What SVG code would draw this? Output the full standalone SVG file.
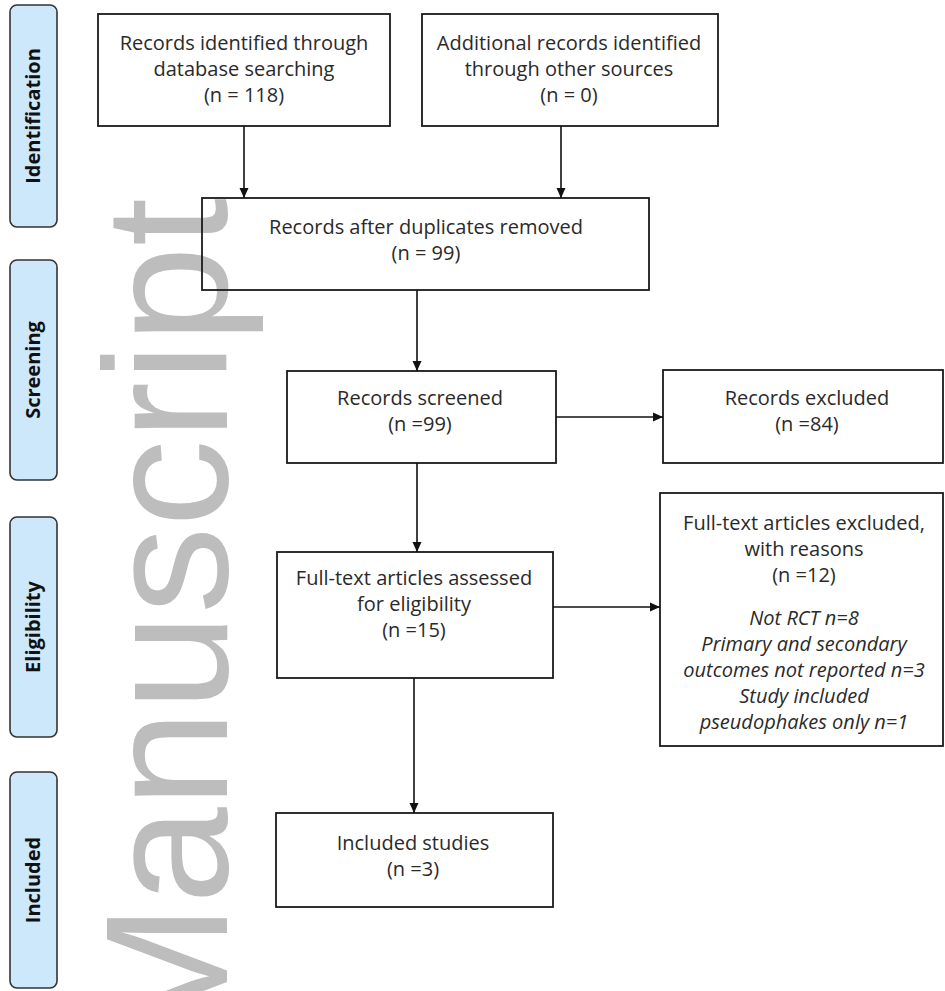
<svg xmlns="http://www.w3.org/2000/svg" width="945" height="991" viewBox="0 0 945 991">
<style>
.wm{font-family:"Liberation Sans",Arial,sans-serif;font-size:174px;fill:#bdbdbd}
.phase rect{fill:#cde8fb;stroke:#333;stroke-width:1.6}
.phase text{font-family:"Open Sans","Liberation Sans",sans-serif;font-weight:700;font-size:20px;fill:#111;text-anchor:middle}
.box rect{fill:none;stroke:#1a1a1a;stroke-width:1.8}
.box text{font-family:"Open Sans","Liberation Sans",sans-serif;font-size:20px;fill:#2a2a2a;text-anchor:middle}
.it{font-style:italic}
.conn line{stroke:#111;stroke-width:1.6;marker-end:url(#ah)}
</style>
<defs>
<marker id="ah" markerUnits="userSpaceOnUse" markerWidth="11" markerHeight="10" refX="10" refY="5" orient="auto">
<path d="M0,0.5 L10,5 L0,9.5 z" fill="#111"/>
</marker>
</defs>
<rect x="0" y="0" width="945" height="991" fill="#fff"/>
<text class="wm" text-anchor="end" transform="translate(227,198) rotate(-90)">Manuscript</text>

<g id="phase-identification" class="phase">
<rect x="10" y="5" width="47" height="222" rx="7"/>
<text transform="translate(40,116) rotate(-90)">Identification</text>
</g>
<g id="phase-screening" class="phase">
<rect x="10" y="260" width="47" height="220" rx="7"/>
<text transform="translate(40,370) rotate(-90)">Screening</text>
</g>
<g id="phase-eligibility" class="phase">
<rect x="10" y="517" width="47" height="220" rx="7"/>
<text transform="translate(40,627) rotate(-90)">Eligibility</text>
</g>
<g id="phase-included" class="phase">
<rect x="10" y="772" width="47" height="216" rx="7"/>
<text transform="translate(40,880) rotate(-90)">Included</text>
</g>

<g id="db-records" class="box">
<rect x="98" y="14" width="292" height="112"/>
<text x="244" y="50">Records identified through</text>
<text x="244" y="76">database searching</text>
<text x="244" y="102">(n = 118)</text>
</g>
<g id="other-records" class="box">
<rect x="422" y="14" width="296" height="112"/>
<text x="569" y="50">Additional records identified</text>
<text x="569" y="76">through other sources</text>
<text x="569" y="102">(n = 0)</text>
</g>
<g id="dedup" class="box">
<rect x="202" y="198" width="447" height="92"/>
<text x="426" y="234">Records after duplicates removed</text>
<text x="426" y="260">(n = 99)</text>
</g>
<g id="screened" class="box">
<rect x="287" y="371" width="269" height="92"/>
<text x="420" y="405">Records screened</text>
<text x="420" y="431">(n =99)</text>
</g>
<g id="excluded" class="box">
<rect x="663" y="370" width="280" height="93"/>
<text x="807" y="405">Records excluded</text>
<text x="807" y="431">(n =84)</text>
</g>
<g id="fulltext" class="box">
<rect x="277" y="552" width="276" height="126"/>
<text x="414" y="585">Full-text articles assessed</text>
<text x="414" y="611">for eligibility</text>
<text x="414" y="637">(n =15)</text>
</g>
<g id="fulltext-excluded" class="box">
<rect x="660" y="493" width="283" height="253"/>
<text x="804" y="530">Full-text articles excluded,</text>
<text x="804" y="556">with reasons</text>
<text x="804" y="582">(n =12)</text>
<text class="it" x="804" y="625">Not RCT n=8</text>
<text class="it" x="804" y="651">Primary and secondary</text>
<text class="it" x="804" y="677">outcomes not reported n=3</text>
<text class="it" x="804" y="703">Study included</text>
<text class="it" x="804" y="729">pseudophakes only n=1</text>
</g>
<g id="included" class="box">
<rect x="276" y="813" width="277" height="94"/>
<text x="413" y="850">Included studies</text>
<text x="413" y="876">(n =3)</text>
</g>

<g id="connectors" class="conn">
<line x1="244" y1="126" x2="244" y2="198"/>
<line x1="561" y1="126" x2="561" y2="198"/>
<line x1="417" y1="290" x2="417" y2="371"/>
<line x1="556" y1="417" x2="663" y2="417"/>
<line x1="417" y1="463" x2="417" y2="552"/>
<line x1="553" y1="607" x2="660" y2="607"/>
<line x1="414" y1="678" x2="414" y2="813"/>
</g>
</svg>
